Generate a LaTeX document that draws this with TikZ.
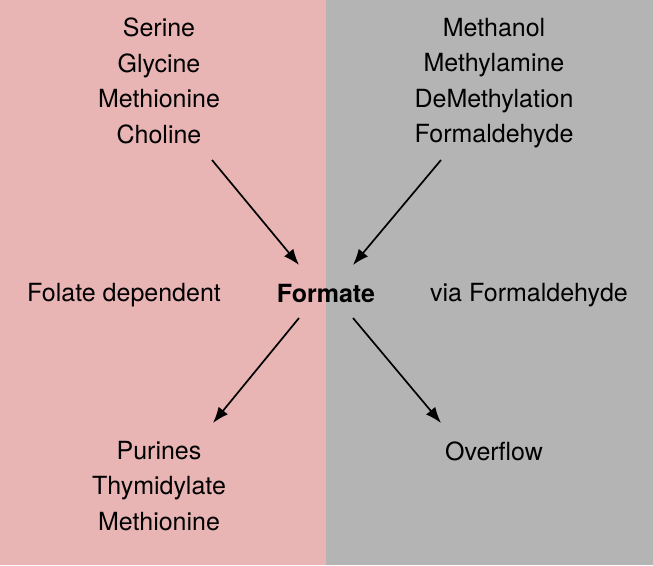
\documentclass[tikz,border=0pt]{standalone}
\usepackage{fontspec}
\setmainfont{TeX Gyre Heros}
\usetikzlibrary{arrows.meta}
\definecolor{pinkbg}{RGB}{232,180,180}
\definecolor{graybg}{RGB}{180,180,180}
\tikzset{
  lbl/.style={font=\fontsize{25}{35.5}\selectfont, align=center, inner sep=0pt},
  arr/.style={-{Latex[length=16pt,width=12pt]}, line width=1.7pt}
}
\begin{document}
\begin{tikzpicture}[x=1pt,y=-1pt]
\useasboundingbox (0,0) rectangle (653,565);
\fill[pinkbg] (0,0) rectangle (326,565);
\fill[graybg] (326,0) rectangle (653,565);
\node[lbl] (srcL) at (159,81) {Serine\\Glycine\\Methionine\\Choline};
\node[lbl] (srcR) at (494,83) {Methanol\\Methylamine\\DeMethylation\\Formaldehyde};
\node[lbl] (folate) at (124,295) {Folate dependent};
\node[lbl, font=\fontsize{25}{35.5}\selectfont\bfseries] (formate) at (326,293) {Formate};
\node[lbl] (via) at (529,295) {via Formaldehyde};
\node[lbl] (sinkL) at (159,486) {Purines\\Thymidylate\\Methionine};
\node[lbl] (sinkR) at (494,451) {Overflow};
\coordinate (a1s) at (212,160);
\coordinate (a1e) at (299,265);
\coordinate (a2s) at (441,160);
\coordinate (a2e) at (353,265);
\coordinate (a3s) at (299,318);
\coordinate (a3e) at (213,423);
\coordinate (a4s) at (353,318);
\coordinate (a4e) at (441,423);
\draw[arr] (a1s) -- (a1e);
\draw[arr] (a2s) -- (a2e);
\draw[arr] (a3s) -- (a3e);
\draw[arr] (a4s) -- (a4e);
\end{tikzpicture}
\end{document}
